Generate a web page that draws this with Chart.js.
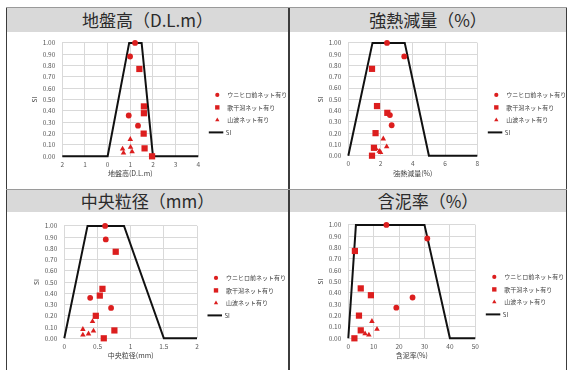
<!DOCTYPE html>
<html>
<head>
<meta charset="utf-8">
<script src="https://cdn.jsdelivr.net/npm/chart.js@4.4.1/dist/chart.umd.min.js"></script>
<style>
  html, body { margin: 0; padding: 0; background: #fff; }
  #sheet { position: relative; width: 569px; height: 370px; overflow: hidden;
           font-family: "Noto Sans CJK JP", "Noto Sans", sans-serif; }
  .band { position: absolute; background: #d9d9d9; color: #2b2b2b; font-size: 17px; font-weight: 400;
          text-align: center; white-space: nowrap; }
  .rule { position: absolute; background: #3c3c3c; }
  canvas { position: absolute; }
</style>
</head>
<body>
<div id="sheet">
  <div class="band" style="left:7px;top:8px;width:281px;height:24px;line-height:24px;">地盤高（D.L.m）</div>
  <div class="band" style="left:290px;top:8px;width:276px;height:24px;line-height:24px;">強熱減量（%）</div>
  <div class="band" style="left:7px;top:190px;width:281px;height:22px;line-height:22px;">中央粒径（mm）</div>
  <div class="band" style="left:290px;top:190px;width:276px;height:22px;line-height:22px;">含泥率（%）</div>
  <div class="rule" style="left:6px;top:7px;width:1px;height:363px;"></div>
  <div class="rule" style="left:288px;top:7px;width:2px;height:363px;"></div>
  <div class="rule" style="left:566px;top:7px;width:1px;height:363px;"></div>
  <div class="rule" style="left:6px;top:7px;width:561px;height:1px;background:#9a9a9a;"></div>
  <div class="rule" style="left:6px;top:189px;width:561px;height:1px;background:#9a9a9a;"></div>
  <canvas id="c1"></canvas>
  <canvas id="c2"></canvas>
  <canvas id="c3"></canvas>
  <canvas id="c4"></canvas>
</div>
<script>
// Series names
const seriesNames = ['ウニヒロ前ネット有り', '歌干潟ネット有り', '山波ネット有り', 'SI'];

// SI of every sample, shared by the four panels
const siUnihiro   = [1.00, 0.88, 0.36, 0.27];
const siUtahigata = [0.77, 0.44, 0.38, 0.20, 0.07, 0.00];
const siYamanami  = [0.15, 0.08, 0.065, 0.04, 0.03];

// 地盤高 (D.L.m)
const elevUnihiro   = [1.21, 0.99, 0.93, 1.34];
const elevUtahigata = [1.40, 1.60, 1.60, 1.59, 1.63, 1.96];
const elevYamanami  = [1.00, 1.01, 0.66, 1.08, 0.70];
const elevCurveX    = [-2, 0, 0.95, 1.5, 2, 4];
const elevCurveSI   = [0, 0, 1, 1, 0, 0];

// 強熱減量 (%)
const ignUnihiro   = [2.40, 3.47, 2.58, 2.69];
const ignUtahigata = [1.47, 1.78, 2.42, 1.69, 1.59, 1.47];
const ignYamanami  = [2.17, 2.38, 1.70, 1.92, 2.00];
const ignCurveX    = [0, 1.5, 3.5, 5, 8];
const ignCurveSI   = [0, 1, 1, 0, 0];

// 中央粒径 (mm)
const grainUnihiro   = [0.615, 0.625, 0.39, 0.705];
const grainUtahigata = [0.775, 0.575, 0.535, 0.475, 0.755, 0.595];
const grainYamanami  = [0.425, 0.28, 0.44, 0.365, 0.28];
const grainCurveX    = [0, 0.35, 0.9, 1.5, 2];
const grainCurveSI   = [0, 1, 1, 0, 0];

// 含泥率 (%)
const mudUnihiro   = [15.0, 31.1, 25.3, 18.9];
const mudUtahigata = [2.6, 4.9, 8.9, 4.2, 4.9, 2.4];
const mudYamanami  = [9.3, 11.3, 5.2, 6.6, 8.1];
const mudCurveX    = [0, 3, 30, 40, 50];
const mudCurveSI   = [0, 1, 1, 0, 0];

// Axis ticks
const siTicks = { min: 0, max: 1, step: 0.1 };
const elevTicks  = { min: -2, max: 4, step: 1 };
const ignTicks   = { min: 0, max: 8, step: 2 };
const grainTicks = { min: 0, max: 2, step: 0.5 };
const mudTicks   = { min: 0, max: 50, step: 10 };

const FONT = '"Noto Sans CJK JP", "Noto Sans", sans-serif';
const RED = '#dc1e1e';
Chart.defaults.font.family = FONT;

const pairs = (xs, ys) => xs.map((x, i) => ({ x: x, y: ys[i] }));

// Legend drawn at the right of the plot area, using each dataset's own style
const sideLegend = {
  id: 'sideLegend',
  afterDraw(chart, args, opts) {
    const { ctx, chartArea } = chart;
    const x0 = chartArea.right + opts.offsetX;
    let y = chartArea.top + opts.offsetY;
    ctx.save();
    ctx.font = opts.fontSize + 'px ' + FONT;
    ctx.textBaseline = 'middle';
    ctx.textAlign = 'left';
    chart.data.datasets.forEach(ds => {
      if (ds.showLine) {
        ctx.strokeStyle = ds.borderColor;
        ctx.lineWidth = ds.borderWidth;
        ctx.beginPath();
        ctx.moveTo(x0 - 8.5, y);
        ctx.lineTo(x0 + 6, y);
        ctx.stroke();
        ctx.fillStyle = opts.color;
        ctx.fillText(ds.label, x0 + 8.5, y);
      } else {
        ctx.fillStyle = ds.backgroundColor;
        Chart.helpers.drawPoint(ctx, {
          pointStyle: ds.pointStyle,
          radius: opts.markerRadius[ds.pointStyle],
          rotation: 0,
          borderWidth: 0
        }, x0, y);
        ctx.fillStyle = opts.color;
        ctx.fillText(ds.label, x0 + 10, y);
      }
      y += opts.step;
    });
    ctx.restore();
  }
};

function makePanel(id, plot, xAxis, xTitle, xLabel, unihiro, utahigata, yamanami, curveX, curveSI) {
  const canvas = document.getElementById(id);
  const left = Math.round(plot.l - 35);
  const top = Math.round(plot.t - 7);
  const width = Math.round(plot.panelRight - left);
  const height = Math.round(plot.b + 30 - top);
  const yAxisWidth = plot.l - left;
  const xAxisHeight = 25.6;
  canvas.width = width;
  canvas.height = height;
  canvas.style.left = left + 'px';
  canvas.style.top = top + 'px';
  canvas.style.width = width + 'px';
  canvas.style.height = height + 'px';

  return new Chart(canvas, {
    type: 'scatter',
    data: {
      datasets: [
        { label: seriesNames[0], data: pairs(unihiro, siUnihiro), pointStyle: 'circle', clip: false,
          pointRadius: 2.9, backgroundColor: RED, borderColor: RED, borderWidth: 0 },
        { label: seriesNames[1], data: pairs(utahigata, siUtahigata), pointStyle: 'rect', clip: false,
          pointRadius: 4.4, backgroundColor: RED, borderColor: RED, borderWidth: 0 },
        { label: seriesNames[2], data: pairs(yamanami, siYamanami), pointStyle: 'triangle', clip: false,
          pointRadius: 3.2, backgroundColor: RED, borderColor: RED, borderWidth: 0 },
        { label: seriesNames[3], data: pairs(curveX, curveSI), showLine: true, pointRadius: 0, clip: false,
          borderColor: '#111', backgroundColor: '#111', borderWidth: 2, tension: 0 }
      ]
    },
    options: {
      responsive: false,
      animation: false,
      devicePixelRatio: 1,
      layout: { padding: { left: 0, top: plot.t - top, right: left + width - plot.r,
                           bottom: top + height - plot.b - xAxisHeight } },
      plugins: {
        legend: { display: false },
        tooltip: { enabled: false },
        sideLegend: { offsetX: 19, offsetY: 52, step: 12.5, fontSize: 6, color: '#404040',
                      markerRadius: { circle: 2.1, rect: 3.1, triangle: 2.5 } }
      },
      scales: {
        x: {
          type: 'linear', min: xAxis.min, max: xAxis.max,
          border: { display: false },
          grid: { color: '#d9d9d9', lineWidth: 1, drawTicks: false },
          ticks: { stepSize: xAxis.step, color: '#595959', font: { size: 6.5 }, padding: 4,
                   maxRotation: 0, autoSkip: false, callback: xLabel },
          title: { display: true, text: xTitle, color: '#404040', font: { size: 7 },
                   padding: { top: 2, bottom: 4 } },
          afterFit(s) { s.height = xAxisHeight; }
        },
        y: {
          type: 'linear', min: siTicks.min, max: siTicks.max,
          border: { display: false },
          grid: { color: '#d9d9d9', lineWidth: 1, drawTicks: false },
          ticks: { stepSize: siTicks.step, color: '#595959', font: { size: 6.5 }, padding: 7,
                   autoSkip: false, callback: v => v.toFixed(2) },
          title: { display: true, text: 'SI', color: '#404040', font: { size: 6.5 },
                   padding: { top: 4, bottom: 4 } },
          afterFit(s) { s.width = yAxisWidth; }
        }
      }
    },
    plugins: [sideLegend]
  });
}

const plainLabel = v => String(v);
const unsignedLabel = v => String(Math.abs(v));

makePanel('c1', { l: 62.3, t: 39, r: 198.3, b: 156.3, panelRight: 287 }, elevTicks,
          '地盤高(D.L.m)', unsignedLabel, elevUnihiro, elevUtahigata, elevYamanami, elevCurveX, elevCurveSI);
makePanel('c2', { l: 348.3, t: 39, r: 477.3, b: 155.7, panelRight: 565 }, ignTicks,
          '強熱減量(%)', plainLabel, ignUnihiro, ignUtahigata, ignYamanami, ignCurveX, ignCurveSI);
makePanel('c3', { l: 64.3, t: 221.5, r: 197, b: 338.3, panelRight: 287 }, grainTicks,
          '中央粒径(mm)', plainLabel, grainUnihiro, grainUtahigata, grainYamanami, grainCurveX, grainCurveSI);
makePanel('c4', { l: 348.3, t: 221, r: 475.3, b: 338.3, panelRight: 565 }, mudTicks,
          '含泥率(%)', plainLabel, mudUnihiro, mudUtahigata, mudYamanami, mudCurveX, mudCurveSI);
</script>
</body>
</html>
